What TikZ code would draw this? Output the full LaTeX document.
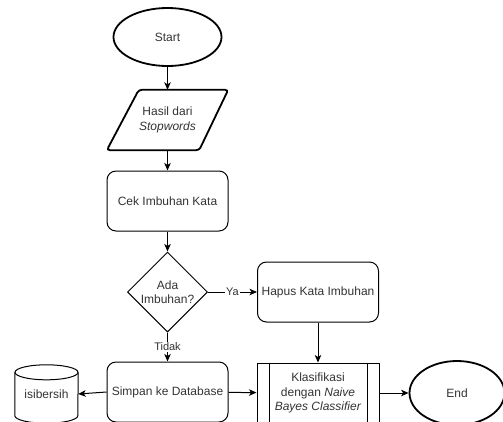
\documentclass[tikz,border=0pt]{standalone}
\usepackage{fontspec}
\setmainfont{Liberation Sans}
\usetikzlibrary{shapes.geometric,arrows.meta,calc}
\begin{document}
\begin{tikzpicture}[x=1pt,y=-1pt,
  font=\fontsize{12}{14.5}\selectfont,
  base/.style={draw, line width=1pt, text=black!80, align=center, inner sep=0pt},
  term/.style={base, ellipse, line width=1.8pt},
  proc/.style={base, rectangle, rounded corners=9pt, minimum width=121pt, minimum height=60pt},
  io/.style={text=black!80, align=center, inner sep=0pt, minimum width=121pt, minimum height=60pt},
  decide/.style={base, diamond, aspect=1, minimum width=80pt, minimum height=80pt},
  sub/.style={base, rectangle, minimum width=122pt, minimum height=60pt},
  lbl/.style={fill=white, inner sep=1pt, text=black!80, font=\fontsize{11}{13}\selectfont},
  arr/.style={-{Stealth[length=7.5pt,width=6.5pt,inset=2pt]}, line width=1pt}]
\useasboundingbox (0,0) rectangle (503,421);
\clip (0,0) rectangle (503,421);

\node[term, minimum width=108pt, minimum height=58pt] (start) at (167.5,37) {Start};
\node[io] (inp) at (167.5,120) {Hasil dari\\\textit{Stopwords}};
\draw[line width=1.8pt, rounded corners=3pt] ($(inp.north west)+(32,0)$) -- (inp.north east)
  -- ($(inp.south east)+(-29,0)$) -- (inp.south west) -- cycle;
\node[proc] (cek) at (167.5,201) {Cek Imbuhan Kata};
\node[decide] (ada) at (167.5,292) {Ada\\Imbuhan?};
\node[proc] (hapus) at (318,292) {Hapus Kata Imbuhan};
\node[proc] (simpan) at (167.5,392) {Simpan ke Database};
\node[sub] (klas) at (318,393) {Klasifikasi\\dengan \textit{Naive}\\\textit{Bayes Classifier}};
\draw[line width=1pt] ($(klas.north west)+(13,0)$) -- ($(klas.south west)+(13,0)$);
\draw[line width=1pt] ($(klas.north east)+(-12,0)$) -- ($(klas.south east)+(-12,0)$);
\node[term, minimum width=95pt, minimum height=64pt] (end) at (457,393) {End};

% cylinder
\node[text=black!80, minimum width=63pt, minimum height=58pt, inner sep=0pt] (db) at (46.5,394) {isibersih};
\draw[line width=1pt] ($(db.north west)+(0,7.5)$) -- ($(db.south west)+(0,-7.5)$)
  arc[start angle=180, end angle=360, x radius=31.5pt, y radius=7.5pt]
  -- ($(db.north east)+(0,7.5)$);
\draw[line width=1pt] ($(db.north)+(0,7.5)$) ellipse [x radius=31.5pt, y radius=7.5pt];

% connectors
\draw[arr] (start) -- (inp);
\draw[arr] (inp) -- (cek);
\draw[arr] (cek) -- (ada);
\draw[arr] (ada) -- node[lbl] {Ya} (hapus);
\draw[arr] (ada) -- node[lbl, pos=0.5] {Tidak} (simpan);
\draw[arr] (hapus) -- (klas);
\draw[arr] (simpan.west) -- (db.east);
\draw[arr] (simpan) -- (klas);
\draw[arr] (klas) -- (end);
\end{tikzpicture}
\end{document}
